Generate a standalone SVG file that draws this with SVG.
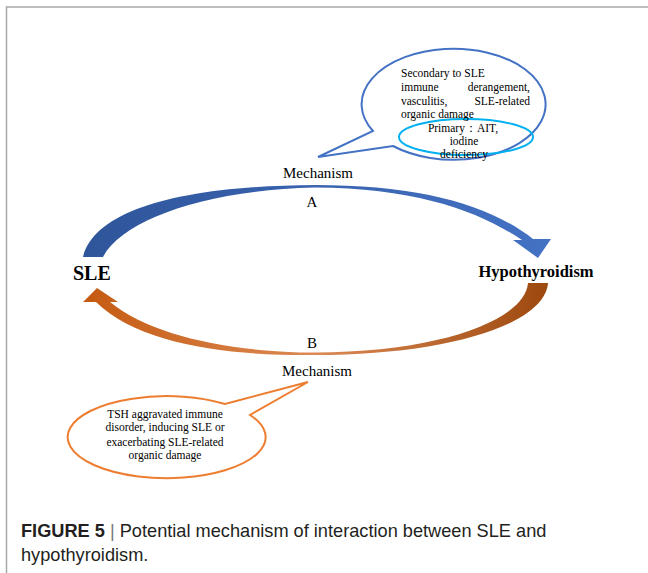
<svg xmlns="http://www.w3.org/2000/svg" width="648" height="573" viewBox="0 0 648 573">
<style>
.serif{font-family:"Liberation Serif","Times New Roman",serif;fill:#000}
.lbl{font-size:15px}
.node{font-weight:bold}
.small{font-size:11.5px}
.cap{font-family:"Liberation Sans",Arial,sans-serif;font-size:18.2px;fill:#231f20}
</style>
<defs>
<linearGradient id="gBlue" x1="0" y1="0" x2="1" y2="0">
<stop offset="0" stop-color="#2f559a"/>
<stop offset="1" stop-color="#4472c4"/>
</linearGradient>
<linearGradient id="gOrange" x1="0" y1="0" x2="1" y2="0">
<stop offset="0" stop-color="#c55a11"/>
<stop offset="0.5" stop-color="#dc8a55"/>
<stop offset="1" stop-color="#9c480e"/>
</linearGradient>
</defs>
<rect width="648" height="573" fill="#fff"/>
<path d="M6.5 573 V7 H648" fill="none" stroke="#a8a8a8" stroke-width="1.5"/>

<g id="connectors">
<path id="arrowA" fill="url(#gBlue)" d="M83 257 C95 210 180 186 315 185 C420 185 490 205 533 239 L551 239 L538 258 L513 240 L522 240 C480 212 418 188 315 187.5 C205 190 122 220 103 257 Z"/>
<path id="arrowB" fill="url(#gOrange)" d="M528 283 L548 283 C545 325 445 355 315 355 C230 356 140 345 96 302 L83 302 L97 288 L118 302 L110 302 C150 335 230 352.5 315 352.5 C440 352 525 320 528 283 Z"/>
</g>

<g id="node-sle"><text class="serif node" x="73" y="280" font-size="20">SLE</text></g>
<g id="node-hypo"><text class="serif node" x="536" y="277" text-anchor="middle" font-size="16.5">Hypothyroidism</text></g>

<g id="label-a">
<text class="serif lbl" x="318" y="178" text-anchor="middle">Mechanism</text>
<text class="serif lbl" x="312" y="207" text-anchor="middle">A</text>
</g>
<g id="label-b">
<text class="serif lbl" x="312" y="348" text-anchor="middle">B</text>
<text class="serif lbl" x="317" y="376" text-anchor="middle">Mechanism</text>
</g>

<g id="callout-a">
<path d="M393 146 A92 55.5 0 1 0 373 131 L318 157 Z" fill="#fff" stroke="#4472c4" stroke-width="2"/>
<ellipse cx="466" cy="137" rx="67" ry="18" fill="none" stroke="#00b0f0" stroke-width="2"/>
<text class="serif small" x="401" y="77">Secondary to SLE</text>
<text class="serif small" x="401" y="91">immune</text>
<text class="serif small" x="530" y="91" text-anchor="end">derangement,</text>
<text class="serif small" x="401" y="105">vasculitis,</text>
<text class="serif small" x="530" y="105" text-anchor="end">SLE-related</text>
<text class="serif small" x="401" y="118">organic damage</text>
<text class="serif small" x="463" y="132" text-anchor="middle">Primary：AIT,</text>
<text class="serif small" x="464" y="145" text-anchor="middle">iodine</text>
<text class="serif small" x="464" y="158" text-anchor="middle">deficiency</text>
</g>

<g id="callout-b">
<path d="M250 415 A99 41 0 1 1 225 404 L308 382 Z" fill="#fff" stroke="#ed7d31" stroke-width="2"/>
<text class="serif small" x="165" y="418" text-anchor="middle">TSH aggravated  immune</text>
<text class="serif small" x="165" y="431" text-anchor="middle">disorder, inducing SLE or</text>
<text class="serif small" x="165" y="446" text-anchor="middle">exacerbating  SLE-related</text>
<text class="serif small" x="165" y="459" text-anchor="middle">organic  damage</text>
</g>

<g id="caption">
<text class="cap" x="21" y="537"><tspan font-weight="bold">FIGURE 5</tspan><tspan fill="#777"> | </tspan>Potential mechanism of interaction between SLE and</text>
<text class="cap" x="21" y="561">hypothyroidism.</text>
</g>
</svg>
